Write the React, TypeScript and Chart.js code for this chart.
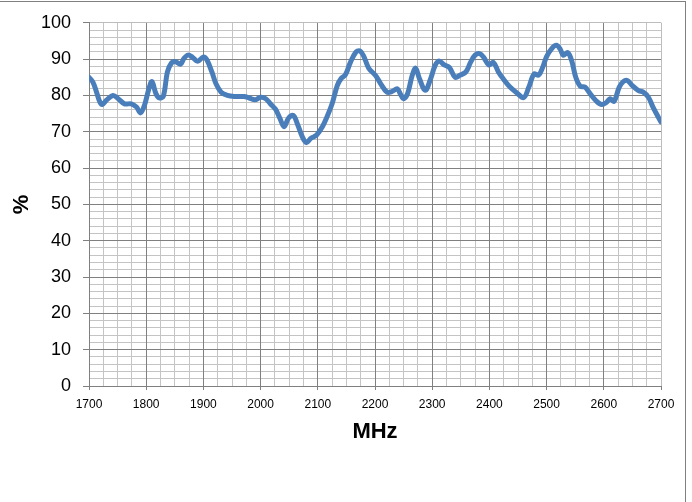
import React, { useEffect, useRef } from "react";
import { Chart, registerables } from "chart.js";

Chart.register(...registerables);

const freqMHz: number[] = [
  1700, 1707, 1713, 1719, 1723, 1730, 1742, 1751, 1762, 1774, 1783, 1790, 1797, 1804, 1810, 1817, 1823, 1830,
  1837, 1844, 1851, 1860, 1866, 1873, 1881, 1890, 1900, 1906, 1915, 1922, 1931, 1942, 1954,
  1971, 1980, 1990, 2000, 2009, 2017, 2026, 2034, 2041, 2049, 2057, 2064, 2073, 2080, 2088, 2098,
  2108, 2116, 2125, 2134, 2141, 2148, 2157, 2166, 2173, 2180, 2189,
  2201, 2210, 2221, 2230, 2239, 2245, 2250, 2257, 2265, 2271, 2278, 2288, 2297, 2305, 2312, 2321,
  2330, 2340, 2349, 2359, 2367, 2375, 2383, 2390, 2399, 2407, 2416, 2425, 2436, 2448,
  2460, 2469, 2478, 2486, 2493, 2500, 2509, 2517, 2524, 2529, 2537, 2544, 2551, 2559, 2567, 2576,
  2586, 2596, 2604, 2611, 2618, 2627, 2634, 2641, 2650, 2660, 2669, 2678, 2686, 2695, 2700,
];

const percent: number[] = [
  85.0, 83.6, 81.0, 78.2, 77.5, 78.6, 80.0, 79.1, 77.7, 77.7, 76.8, 75.2, 77.3, 81.4, 83.8, 80.5, 79.3, 79.8,
  86.4, 88.9, 89.3, 88.6, 90.2, 91.1, 90.5, 89.4, 90.6, 89.8, 86.4, 83.2, 80.9, 80.0, 79.7,
  79.7, 79.3, 78.8, 79.5, 79.1, 77.7, 76.2, 73.6, 71.4, 73.8, 74.5, 72.3, 68.6, 67.0, 68.2, 69.1,
  71.4, 74.1, 77.7, 82.7, 84.7, 85.6, 89.1, 91.8, 92.3, 90.9, 87.5,
  85.5, 83.2, 80.9, 81.1, 81.8, 80.2, 79.1, 80.5, 85.5, 87.5, 84.5, 81.4, 84.5, 88.2, 89.5, 88.4,
  87.7, 85.0, 85.6, 86.5, 89.1, 91.1, 91.5, 90.5, 88.4, 89.1, 86.4, 84.4, 82.3, 80.7,
  79.4, 82.3, 85.9, 85.6, 87.7, 90.7, 92.9, 93.8, 92.7, 91.1, 91.8, 89.5, 85.0, 82.5, 82.3, 80.5,
  78.6, 77.5, 78.0, 79.1, 78.4, 82.3, 83.8, 84.1, 82.7, 81.4, 80.9, 79.5, 76.8, 74.1, 72.7,
];

const xMin = 1700;
const xMax = 2700;
const xMajorStep = 100;
const xMinorStep = 25;
const yMin = 0;
const yMax = 100;
const yMajorStep = 10;
const yMinorStep = 2;
const xTitle = "MHz";
const yTitle = "%";

const FONT = "'Liberation Sans', Arial, sans-serif";
const MAJOR = "#808080";
const MINOR = "#c4c4c4";
const EDGE = "#bdbdbd";

export default function App() {
  const canvasRef = useRef<HTMLCanvasElement | null>(null);

  useEffect(() => {
    const canvas = canvasRef.current;
    if (!canvas) return;
    const chart = new Chart(canvas, {
      type: "line",
      data: {
        datasets: [
          {
            data: freqMHz.map((f, i) => ({ x: f, y: percent[i] })),
            borderColor: "#4a7ebb",
            borderWidth: 5,
            pointRadius: 0,
            tension: 0.35,
            borderCapStyle: "round",
            borderJoinStyle: "round",
            fill: false,
            xAxisID: "x",
            yAxisID: "y",
          },
        ],
      },
      options: {
        animation: false,
        responsive: false,
        events: [],
        layout: { padding: { left: 9, top: 19, right: 31, bottom: 56 } },
        plugins: { legend: { display: false }, tooltip: { enabled: false } },
        scales: {
          xMinor: {
            type: "linear",
            position: "bottom",
            min: xMin,
            max: xMax,
            ticks: { display: false, stepSize: xMinorStep, maxTicksLimit: 1000 },
            grid: { color: MINOR, lineWidth: 1, drawTicks: false, z: -2 },
            border: { display: false },
            afterFit: (s: any) => {
              s.height = 0;
            },
          },
          yMinor: {
            type: "linear",
            position: "left",
            min: yMin,
            max: yMax,
            ticks: { display: false, stepSize: yMinorStep, maxTicksLimit: 1000 },
            grid: { color: MINOR, lineWidth: 1, drawTicks: false, z: -2 },
            border: { display: false },
            afterFit: (s: any) => {
              s.width = 0;
            },
          },
          x: {
            type: "linear",
            position: "bottom",
            min: xMin,
            max: xMax,
            ticks: {
              stepSize: xMajorStep,
              autoSkip: false,
              maxRotation: 0,
              minRotation: 0,
              padding: 7,
              color: "#000",
              font: { family: FONT, size: 12 },
              callback: (v: any) => String(v),
            },
            grid: {
              color: (ctx: any) => (ctx.tick && ctx.tick.value === xMax ? EDGE : MAJOR),
              tickColor: MAJOR,
              tickLength: 4,
              lineWidth: 1,
              z: -1,
            },
            border: { display: true, color: MAJOR, width: 1 },
            title: {
              display: true,
              text: xTitle,
              color: "#000",
              font: { family: FONT, size: 22, weight: "bold" },
              padding: { top: 0, bottom: 1 },
            },
            afterFit: (s: any) => {
              s.height = 60;
            },
          },
          y: {
            type: "linear",
            position: "left",
            min: yMin,
            max: yMax,
            ticks: {
              stepSize: yMajorStep,
              autoSkip: false,
              padding: 12,
              color: "#000",
              font: { family: FONT, size: 18 },
            },
            grid: {
              color: (ctx: any) => (ctx.tick && ctx.tick.value === yMax ? EDGE : MAJOR),
              tickColor: MAJOR,
              tickLength: 6,
              lineWidth: 1,
              z: -1,
            },
            border: { display: true, color: MAJOR, width: 1 },
            title: {
              display: true,
              text: yTitle,
              color: "#000",
              font: { family: FONT, size: 22, weight: "bold" },
              padding: { top: 0, bottom: 0 },
            },
            afterFit: (s: any) => {
              s.width = 80;
            },
          },
        },
      } as any,
    });
    return () => {
      chart.destroy();
    };
  }, []);

  return (
    <div
      style={{
        position: "fixed",
        left: 0,
        top: 0,
        width: 692,
        height: 502,
        overflow: "hidden",
        background: "#fff",
      }}
    >
      <div
        style={{
          position: "absolute",
          left: -10,
          top: 1,
          width: 686 + 10,
          height: 600,
          borderTop: "1px solid #808080",
          borderRight: "1px solid #808080",
          boxSizing: "border-box",
        }}
      />
      <canvas
        ref={canvasRef}
        width={692}
        height={502}
        style={{ position: "absolute", left: 0, top: 0, width: 692, height: 502 }}
      />
    </div>
  );
}
